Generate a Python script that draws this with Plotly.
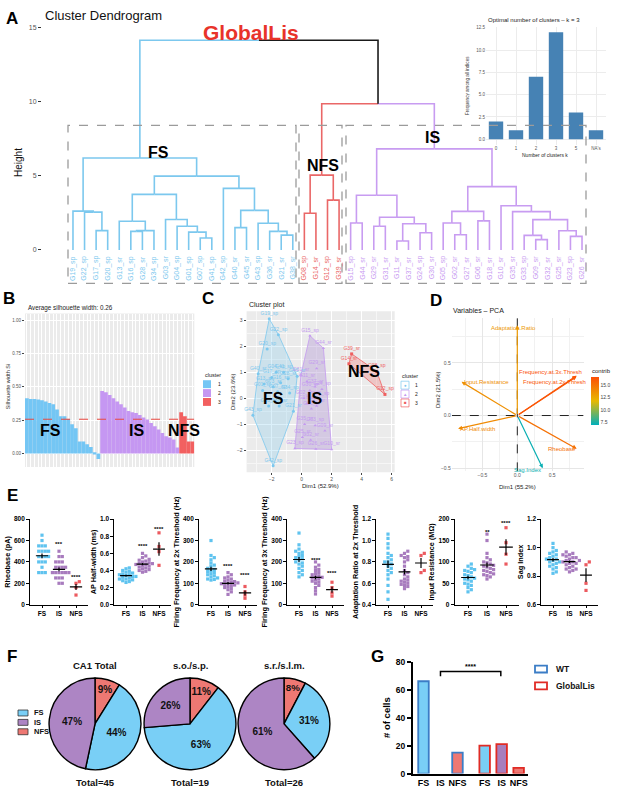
import numpy as np
import plotly.graph_objects as go

W, H = 617, 796
FONT = "Liberation Sans, Arial, sans-serif"


def X(px):
    return px / W


def Y(py):
    return 1 - py / H


# ============================ DATA ============================
# ---- A: dendrogram, nodes are (left, right, merge height)
FS_A = ("G19_sp", ("G22_sp", ("G17_sp", "G20_sp", 1.3), 2.55), 2.62)
FS_B1 = ("G13_sr", (("G16_sp", "G28_sr", 1.25), "G34_sp", 1.3), 1.93)
FS_B2 = ("G03_sr", ("G04_sp", ("G01_sp", ("G07_sp", "G41_sp", 0.8), 1.2), 1.6), 2.05)
FS_C = ("G42_sp", (("G40_sr", "G45_sr", 1.5),
                   ("G43_sp", ("G36_sr", ("G21_sr", "G38_sr", 1.0), 1.25), 1.8), 2.67), 4.15)
FS_TREE = (FS_A, ((FS_B1, FS_B2, 3.75), FS_C, 4.98), 6.2)
NFS_TREE = (("G08_sp", "G14_sr", 2.47), ("G12_sp", "G39_sr", 3.36), 5.05)
IS_L = (("G15_sp", "G44_sr", 1.82),
        (("G29_sr", "G31_sr", 1.6), (("G11_sr", "G37_sr", 0.6), ("G24_sp", "G30_sr", 1.16), 1.76), 2.2), 3.69)
IS_R1 = (("G05_sp", ("G02_sr", "G27_sr", 1.02), 1.82), ("G06_sr", "G18_sr", 1.96), 2.6)
IS_R2 = ("G10_sr", ("G35_sr", (("G33_sp", ("G09_sr", "G32_sr", 0.69), 0.98),
                               ("G25_sr", ("G23_sp", "G26_sr", 0.91), 1.29), 2.04), 2.58), 2.98)
IS_TREE = (IS_L, (IS_R1, IS_R2, 4.27), 6.82)
ROOT = (FS_TREE, (NFS_TREE, IS_TREE, 9.87), 14.15)

# inset: optimal number of clusters
K_LABELS = ["0", "1", "2", "3", "5", "NA's"]
K_FREQ = [2, 1, 7, 12, 3, 1]

# ---- B: silhouette widths (sorted within cluster)
SIL_FS = [0.415, 0.41, 0.41, 0.405, 0.40, 0.39, 0.38, 0.37, 0.33, 0.28, 0.28, 0.26, 0.22, 0.19,
          0.09, 0.09, 0.07, 0.05, 0.01, -0.04]
SIL_IS = [0.47, 0.46, 0.44, 0.415, 0.39, 0.37, 0.345, 0.32, 0.31, 0.305, 0.29, 0.27, 0.255, 0.23,
          0.205, 0.18, 0.155, 0.13, 0.12, 0.105, 0.045]
SIL_NFS = [0.31, 0.28, 0.09, 0.09]

# ---- C: cluster plot coordinates (same order as dendrogram leaves)
C_FS_D1 = [-2.16, -1.55, -2.0, -2.3, -2.5, -1.4, -0.9, -0.8, -1.9, -1.7, -2.6, -1.6, -1.2, -1.9,
           -2.9, -0.3, -3.25, -2.2, -0.55, -1.5]
C_FS_D2 = [3.06, 2.45, 0.8, 1.9, 0.55, 0.6, 0.75, 0.2, 0.45, 1.0, 0.3, 0.25, 1.0, -2.6,
           0.95, 0.85, -0.65, -0.3, -0.5, -0.3]
C_IS_D1 = [0.55, 1.45, 1.0, -0.05, 0.35, 0.9, 1.35, 0.55, 1.25, 0.15, 1.0, 0.65, 0.35, 2.0,
           0.2, 0.9, 1.55, 0.6, 0.05, -0.45, 0.95]
C_IS_D2 = [2.41, 1.93, 1.15, 0.9, 0.65, 0.45, 0.35, 0.3, -0.05, 0.0, -0.3, -0.4, -0.2, -1.97,
           -1.0, -1.05, -1.25, -1.6, -1.5, -1.93, -1.95]
C_NFS_D1 = [5.0, 3.15, 5.55, 3.33]
C_NFS_D2 = [1.04, 1.33, 0.15, 1.71]

# ---- D: PCA variables
VAR_NAMES = ["Adaptation.Ratio", "Frequency.at.3x.Thresh", "Frequency.at.2x.Thresh",
             "Input.Resistance", "AP.Half.width", "Rheobase", "Sag.Index"]
VAR_D1 = [0.0, 0.852, 0.85, -0.80, -0.85, 0.852, 0.365]
VAR_D2 = [0.857, 0.378, 0.37, 0.32, -0.125, -0.315, -0.50]
VAR_CONTRIB = [13.2, 16.4, 16.2, 13.6, 13.9, 15.0, 7.2]

# ---- E: electrophysiology per cluster
RHEO_FS = [650, 600, 550, 550, 550, 500, 500, 500, 500, 450, 450, 450, 450, 400, 400, 400, 350, 300, 300, 300]
RHEO_IS = [500, 450, 450, 400, 400, 400, 350, 350, 350, 350, 300, 300, 300, 300, 300, 300, 250, 250, 250, 200, 200]
RHEO_NFS = [215, 200, 160, 90]
APHW_FS = [0.43, 0.42, 0.40, 0.39, 0.38, 0.37, 0.36, 0.35, 0.35, 0.34, 0.33, 0.33, 0.32, 0.31, 0.30,
           0.30, 0.29, 0.28, 0.27, 0.26]
APHW_IS = [0.60, 0.57, 0.55, 0.53, 0.52, 0.51, 0.50, 0.49, 0.48, 0.48, 0.47, 0.47, 0.46, 0.45, 0.44,
           0.43, 0.42, 0.41, 0.40, 0.39, 0.38]
APHW_NFS = [0.84, 0.68, 0.62, 0.46]
FF2_FS = [300, 230, 220, 210, 195, 185, 180, 170, 165, 160, 155, 150, 145, 140, 135, 130, 125, 120, 118, 115]
FF2_IS = [150, 140, 130, 125, 120, 115, 110, 108, 105, 102, 100, 98, 95, 92, 90, 85, 80, 75, 70, 60, 48]
FF2_NFS = [85, 60, 45, 30]
FF3_FS = [335, 280, 260, 250, 245, 240, 230, 225, 220, 215, 210, 200, 195, 190, 180, 170, 160, 150, 140, 130]
FF3_IS = [200, 185, 175, 165, 160, 150, 145, 140, 135, 130, 128, 125, 120, 115, 110, 105, 100, 90, 80, 65, 50]
FF3_NFS = [105, 80, 55, 40]
ADAPT_FS = [1.06, 1.02, 0.97, 0.93, 0.88, 0.86, 0.84, 0.82, 0.80, 0.80, 0.78, 0.76, 0.74, 0.72, 0.70,
            0.68, 0.64, 0.58, 0.52, 0.45]
ADAPT_IS = [0.90, 0.88, 0.86, 0.85, 0.84, 0.82, 0.80, 0.76, 0.72, 0.70, 0.68, 0.66, 0.64, 0.63, 0.62,
            0.61, 0.60, 0.59, 0.58, 0.57, 0.55]
ADAPT_NFS = [0.88, 0.86, 0.72, 0.70]
RIN_FS = [95, 90, 85, 82, 80, 78, 75, 70, 68, 65, 62, 60, 58, 55, 50, 48, 45, 40, 35, 30]
RIN_IS = [165, 150, 120, 110, 105, 100, 98, 95, 92, 90, 88, 85, 82, 80, 78, 75, 72, 70, 68, 65, 60]
RIN_NFS = [180, 145, 118, 95]
SAG_FS = [1.03, 1.0, 0.98, 0.97, 0.96, 0.95, 0.94, 0.93, 0.92, 0.92, 0.91, 0.90, 0.90, 0.89, 0.88,
          0.87, 0.86, 0.85, 0.83, 0.82]
SAG_IS = [0.97, 0.96, 0.95, 0.95, 0.94, 0.93, 0.93, 0.92, 0.91, 0.91, 0.90, 0.90, 0.89, 0.89, 0.88,
          0.87, 0.86, 0.85, 0.85, 0.84, 0.83]
SAG_NFS = [0.90, 0.88, 0.75, 0.70]
E_CATS = ["FS", "IS", "NFS"]

# ---- F: pies (order: NFS, FS, IS)
PIE_TITLES = ["CA1 Total", "s.o./s.p.", "s.r./s.l.m."]
PIE_COUNTS = [[4, 20, 21], [2, 12, 5], [2, 8, 16]]
PIE_PCT = [["9%", "44%", "47%"], ["11%", "63%", "26%"], ["8%", "31%", "61%"]]
PIE_TOTALS = ["Total=45", "Total=19", "Total=26"]

# ---- G: number of cells
G_CATS = ["FS", "IS", "NFS"]
G_WT = [66, 0, 15]
G_GL = [20, 21, 4]

# ============================ STYLE ============================
CL = {"FS": "#7cc8ee", "NFS": "#ea6767", "IS": "#c89cf1", "mix": "#1a1a1a"}
SIL_COL = {"FS": "#74c6f4", "IS": "#c597f2", "NFS": "#f26060"}
E_COL = ["#5fc3ef", "#a87bbe", "#ec5a5f"]
F_COL = {"FS": "#79cff6", "IS": "#ad85c4", "NFS": "#ee7873"}

fig = go.Figure()
annotations = []
shapes = []
layout = dict(width=W, height=H, autosize=False, margin=dict(l=0, r=0, t=0, b=0),
              paper_bgcolor="white", plot_bgcolor="rgba(0,0,0,0)", showlegend=False,
              font=dict(family=FONT, size=7, color="#222222"))


def sfx(n):
    return "" if n == 1 else str(n)


def set_axes(n, xpx, ypy, xr, yr, xkw=None, ykw=None):
    s = sfx(n)
    base = dict(showgrid=False, zeroline=False, showticklabels=False, ticks="", showline=False)
    xa = dict(base, domain=[X(xpx[0]), X(xpx[1])], range=xr, anchor="y" + s)
    ya = dict(base, domain=[Y(ypy[1]), Y(ypy[0])], range=yr, anchor="x" + s)
    xa.update(xkw or {})
    ya.update(ykw or {})
    layout["xaxis" + s] = xa
    layout["yaxis" + s] = ya


def txt(px, py, text, size=7, color="#222222", xa="center", ya="middle", angle=0, bold=False):
    annotations.append(dict(x=X(px), y=Y(py), xref="paper", yref="paper", text=("<b>%s</b>" % text) if bold else text,
                            showarrow=False, xanchor=xa, yanchor=ya, textangle=angle,
                            font=dict(size=size, color=color, family=FONT)))


def rect_px(x0, y0, x1, y1, **kw):
    shapes.append(dict(type="rect", xref="paper", yref="paper", x0=X(x0), x1=X(x1), y0=Y(y1), y1=Y(y0), **kw))


# panel letters
for L, px, py in [("A", 12, 14), ("B", 9, 297), ("C", 208, 297), ("D", 436, 299), ("E", 12, 497),
                  ("F", 12, 660), ("G", 377, 660)]:
    txt(px, py, L, size=17, color="black", bold=True)

# ============================ A: dendrogram ============================
def leaves(node):
    if isinstance(node, str):
        return [node]
    return leaves(node[0]) + leaves(node[1])


order = leaves(ROOT)
pos = {nm: i + 1 for i, nm in enumerate(order)}
cluster_of = {}
for c, tree in (("FS", FS_TREE), ("NFS", NFS_TREE), ("IS", IS_TREE)):
    for l in leaves(tree):
        cluster_of[l] = c


def node_cluster(node):
    cs = {cluster_of[l] for l in leaves(node)}
    return cs.pop() if len(cs) == 1 else "mix"


segs = {c: ([], []) for c in CL}


def place(node):
    if isinstance(node, str):
        return pos[node], 0.0
    l, r, h = node
    xl, hl = place(l)
    xr, hr = place(r)
    xm = (xl + xr) / 2
    for child, xc, hc in ((l, xl, hl), (r, xr, hr)):
        xs, ys = segs[node_cluster(child)]
        xs += [xc, xc, xm, None]
        ys += [hc, h, h, None]
    return xm, h


place(ROOT)
for c, (xs, ys) in segs.items():
    fig.add_trace(go.Scatter(x=xs, y=ys, mode="lines", line=dict(color=CL[c], width=1.6),
                             hoverinfo="skip", xaxis="x", yaxis="y"))

set_axes(1, (67.2, 587.8), (18.5, 255.5), [0.5, 45.5], [-0.5, 15.3],
         ykw=dict(anchor="free", position=X(41), tickvals=[0, 5, 10, 15], showticklabels=True,
                  ticks="outside", ticklen=3, tickcolor="#333333", tickwidth=1,
                  tickfont=dict(size=7, color="#555555")))
for nm in order:
    annotations.append(dict(x=pos[nm], y=-0.25, xref="x", yref="y", text=nm, showarrow=False,
                            textangle=-90, xanchor="center", yanchor="top",
                            font=dict(size=7, color=CL[cluster_of[nm]], family=FONT)))
for x0, x1 in [(68, 296), (299, 342), (346, 586)]:
    rect_px(x0, 122, x1, 282, line=dict(color="#9b9b9b", width=1.3, dash="dash"), fillcolor="rgba(0,0,0,0)")
txt(43, 11, "Cluster Dendrogram", size=13, color="#111111", xa="left")
txt(19, 160, "Height", size=10, color="#111111", angle=-90)
txt(251, 28, "GlobalLis", size=21, color="#e8332a", bold=True)
txt(158, 149, "FS", size=16, color="black", bold=True)
txt(323, 163, "NFS", size=16, color="black", bold=True)
txt(433, 134, "IS", size=16, color="black", bold=True)

# inset
fig.add_trace(go.Bar(x=list(range(len(K_FREQ))), y=K_FREQ, marker=dict(color="#4682b4", line=dict(width=0)),
                     width=0.72, xaxis="x2", yaxis="y2", hoverinfo="skip"))
set_axes(2, (486, 606), (22.1, 141.4), [-0.5, 5.5], [-0.6, 12.6],
         xkw=dict(tickvals=list(range(len(K_LABELS))), ticktext=K_LABELS, showticklabels=True,
                  showgrid=True, gridcolor="#ececec", gridwidth=0.6, tickfont=dict(size=4.5, color="#555")),
         ykw=dict(tickvals=[0, 2.5, 5, 7.5, 10, 12.5], ticktext=["0.0", "2.5", "5.0", "7.5", "10.0", "12.5"],
                  showticklabels=True, showgrid=True, gridcolor="#ececec", gridwidth=0.6,
                  tickfont=dict(size=4.5, color="#555")))
txt(534, 15, "Optimal number of clusters \u2013 k = 3", size=6, color="#222")
txt(468, 82, "Frequency among all indices", size=4.6, color="#333", angle=-90)
txt(545, 152, "Number of clusters k", size=5, color="#222")

# ============================ B: silhouette ============================
shapes.append(dict(type="rect", xref="x3 domain", yref="y3 domain", x0=0, x1=1, y0=0, y1=1,
                   fillcolor="#ebebeb", line=dict(width=0), layer="below"))
start = 1
for c, vals in (("FS", SIL_FS), ("IS", SIL_IS), ("NFS", SIL_NFS)):
    xs = list(range(start, start + len(vals)))
    fig.add_trace(go.Bar(x=xs, y=vals, width=1.0, marker=dict(color=SIL_COL[c], line=dict(width=0)),
                         xaxis="x3", yaxis="y3", hoverinfo="skip"))
    start += len(vals)
sil_all = SIL_FS + SIL_IS + SIL_NFS
sil_mean = float(np.mean(sil_all))
set_axes(3, (25, 194.3), (312.5, 467.8), [0.5, 45.5], [-0.1, 1.05],
         xkw=dict(tickvals=list(range(1, 46)), showgrid=True, gridcolor="white", gridwidth=0.6),
         ykw=dict(tickvals=[0, 0.25, 0.5, 0.75, 1.0], ticktext=["0.00", "0.25", "0.50", "0.75", "1.00"],
                  showticklabels=True, showgrid=True, gridcolor="white", gridwidth=0.8,
                  ticks="outside", ticklen=2, tickcolor="#444", tickfont=dict(size=4.5, color="#555")))
shapes.append(dict(type="line", xref="x3", yref="y3", x0=0.5, x1=45.5, y0=sil_mean, y1=sil_mean,
                   line=dict(color="#e8473f", width=1, dash="dash")))
txt(26, 307, "Average silhouette width: %.2f" % sil_mean, size=6.3, color="#222", xa="left")
txt(8, 387, "Silhouette width Si", size=5.5, color="#333", angle=-90)
txt(50, 431, "FS", size=16, color="black", bold=True)
txt(136, 431, "IS", size=16, color="black", bold=True)
txt(184, 431, "NFS", size=16, color="black", bold=True)
# B legend
txt(203, 375, "cluster", size=5.5, color="#222", xa="left")
for i, c in enumerate(["FS", "IS", "NFS"]):
    rect_px(203, 380 + 9 * i, 211, 388 + 9 * i, fillcolor=SIL_COL[c], line=dict(width=0))
    txt(216, 384 + 9 * i, str(i + 1), size=5, color="#222", xa="left")

# ============================ C: cluster plot ============================
shapes.append(dict(type="rect", xref="x4 domain", yref="y4 domain", x0=0, x1=1, y0=0, y1=1,
                   fillcolor="#ebebeb", line=dict(width=0), layer="below"))


def hull(xs, ys):
    pts = sorted(set(zip(xs, ys)))

    def cross(o, a, b):
        return (a[0] - o[0]) * (b[1] - o[1]) - (a[1] - o[1]) * (b[0] - o[0])
    lo, up = [], []
    for p in pts:
        while len(lo) >= 2 and cross(lo[-2], lo[-1], p) <= 0:
            lo.pop()
        lo.append(p)
    for p in reversed(pts):
        while len(up) >= 2 and cross(up[-2], up[-1], p) <= 0:
            up.pop()
        up.append(p)
    h = lo[:-1] + up[:-1]
    h.append(h[0])
    return [p[0] for p in h], [p[1] for p in h]


C_GROUPS = [("FS", C_FS_D1, C_FS_D2, leaves(FS_TREE), "circle", "rgba(124,200,238,0.28)", "#7cc8ee"),
            ("IS", C_IS_D1, C_IS_D2, leaves(IS_TREE), "triangle-up", "rgba(185,160,215,0.45)", "#c49af0"),
            ("NFS", C_NFS_D1, C_NFS_D2, leaves(NFS_TREE), "square", "rgba(240,96,96,0.28)", "#ef5f5f")]
for c, dx, dy, names, sym, fillc, linec in C_GROUPS:
    hx, hy = hull(dx, dy)
    fig.add_trace(go.Scatter(x=hx, y=hy, mode="lines", fill="toself", fillcolor=fillc,
                             line=dict(color=linec, width=0.8), xaxis="x4", yaxis="y4", hoverinfo="skip"))
for c, dx, dy, names, sym, fillc, linec in C_GROUPS:
    fig.add_trace(go.Scatter(x=dx, y=dy, mode="markers+text", text=names, textposition="top center",
                             textfont=dict(size=5, color=linec, family=FONT),
                             marker=dict(symbol=sym, size=3, color=linec), xaxis="x4", yaxis="y4",
                             hoverinfo="skip", cliponaxis=False))
set_axes(4, (246.6, 394.7), (310.2, 473.3), [-3.67, 6.2], [-2.85, 3.35],
         xkw=dict(tickmode="linear", tick0=0, dtick=2, showticklabels=True, showgrid=True, gridcolor="white",
                  gridwidth=0.8, ticks="outside", ticklen=2, tickcolor="#444",
                  tickfont=dict(size=5, color="#555"),
                  minor=dict(dtick=1, showgrid=True, gridcolor="#f6f6f6", gridwidth=0.4)),
         ykw=dict(tickmode="linear", tick0=0, dtick=1, showticklabels=True, showgrid=True, gridcolor="white",
                  gridwidth=0.8, ticks="outside", ticklen=2, tickcolor="#444",
                  tickfont=dict(size=5, color="#555"),
                  minor=dict(dtick=0.5, showgrid=True, gridcolor="#f6f6f6", gridwidth=0.4)))
txt(247, 304, "Cluster plot", size=7, color="#222", xa="left")
txt(320, 487, "Dim1 (52.9%)", size=6, color="#222")
txt(233, 392, "Dim2 (23.6%)", size=6, color="#222", angle=-90)
txt(273, 398, "FS", size=16, color="black", bold=True)
txt(314, 398, "IS", size=16, color="black", bold=True)
txt(364, 371, "NFS", size=16, color="black", bold=True)
# C legend
txt(400, 376, "cluster", size=5.5, color="#222", xa="left")
for i, (c, glyph) in enumerate([("FS", "\u25cf"), ("IS", "\u25b2"), ("NFS", "\u25a0")]):
    col = C_GROUPS[i][6]
    rect_px(401, 381 + 9 * i, 409, 389 + 9 * i, fillcolor="white", line=dict(color=col, width=0.7))
    txt(405, 385 + 9 * i, glyph, size=4.5, color=col)
    txt(413, 385 + 9 * i, str(i + 1), size=5, color="#222", xa="left")

# ============================ D: PCA variables ============================
CMIN, CMAX = 7.0, 16.6
CSTOPS = [(0.0, (0, 175, 187)), (0.5, (231, 184, 0)), (1.0, (252, 78, 7))]


def cs_color(v):
    t = min(1.0, max(0.0, (v - CMIN) / (CMAX - CMIN)))
    for (t0, c0), (t1, c1) in zip(CSTOPS[:-1], CSTOPS[1:]):
        if t <= t1:
            f = (t - t0) / (t1 - t0)
            return "rgb(%d,%d,%d)" % tuple(round(a + (b - a) * f) for a, b in zip(c0, c1))
    return "rgb(%d,%d,%d)" % CSTOPS[-1][1]


set_axes(5, (451.8, 583.5), (316.5, 472.3), [-0.94, 0.95], [-0.53, 0.93],
         xkw=dict(tickmode="linear", tick0=0, dtick=0.5, tickformat=".1f", showticklabels=True, showgrid=True,
                  gridcolor="#e6e6e6", gridwidth=0.7, tickfont=dict(size=5, color="#555"),
                  minor=dict(dtick=0.25, showgrid=True, gridcolor="#f1f1f1", gridwidth=0.5)),
         ykw=dict(tickmode="linear", tick0=0, dtick=0.5, tickformat=".1f", showticklabels=True, showgrid=True,
                  gridcolor="#e6e6e6", gridwidth=0.7, tickfont=dict(size=5, color="#555"),
                  minor=dict(dtick=0.25, showgrid=True, gridcolor="#f1f1f1", gridwidth=0.5)))
shapes.append(dict(type="line", xref="x5", yref="y5", x0=0, x1=0, y0=-0.53, y1=0.93,
                   line=dict(color="#222", width=1, dash="dash")))
shapes.append(dict(type="line", xref="x5", yref="y5", x0=-0.94, x1=0.95, y0=0, y1=0,
                   line=dict(color="#222", width=1, dash="dash")))
LBL_POS = [(-0.05, 0.83, "center"), (0.0, 0.41, "left"), (0.06, 0.32, "left"), (-0.80, 0.32, "left"),
           (-0.85, -0.13, "left"), (0.87, -0.32, "right"), (0.15, -0.515, "center")]
for nm, d1, d2, ct, (lx, ly, anc) in zip(VAR_NAMES, VAR_D1, VAR_D2, VAR_CONTRIB, LBL_POS):
    col = cs_color(ct)
    annotations.append(dict(x=d1, y=d2, ax=0, ay=0, xref="x5", yref="y5", axref="x5", ayref="y5",
                            text="", showarrow=True, arrowhead=2, arrowsize=0.7, arrowwidth=1.2,
                            arrowcolor=col))
    annotations.append(dict(x=lx, y=ly, xref="x5", yref="y5", text=nm, showarrow=False, xanchor=anc,
                            yanchor="middle", font=dict(size=6, color=col, family=FONT)))
fig.add_trace(go.Scatter(x=[0] * len(VAR_CONTRIB), y=[0] * len(VAR_CONTRIB), mode="markers",
                         marker=dict(size=1, opacity=0, color=VAR_CONTRIB, cmin=CMIN, cmax=CMAX,
                                     colorscale=[[s, "rgb(%d,%d,%d)" % c] for s, c in CSTOPS],
                                     showscale=True,
                                     colorbar=dict(x=X(591), xanchor="left", y=Y(401), yanchor="middle",
                                                   lenmode="pixels", len=48, thicknessmode="pixels",
                                                   thickness=8, outlinewidth=0, xpad=0, ypad=0,
                                                   tickvals=[7.5, 10, 12.5, 15],
                                                   ticktext=["7.5", "10.0", "12.5", "15.0"],
                                                   ticks="", ticklabelposition="outside",
                                                   tickfont=dict(size=5, color="#444"),
                                                   title=dict(text="", font=dict(size=6), side="top"))),
                         xaxis="x5", yaxis="y5", hoverinfo="skip"))
txt(590, 371, "contrib", size=6, color="#222", xa="left")
txt(451, 309, "Variables \u2013 PCA", size=7, color="#222", xa="left")
txt(517, 488, "Dim1 (55.2%)", size=6, color="#222")
txt(438, 390, "Dim2 (21.5%)", size=6, color="#222", angle=-90)

# ============================ E: scatter panels ============================
def swarm(vals, px_per_val, unit_px, d=3.3):
    idx = sorted(range(len(vals)), key=lambda i: vals[i])
    placed = []
    out = [0.0] * len(vals)
    cands = [0.0]
    for m in range(1, 15):
        cands += [m * d, -m * d]
    for i in idx:
        yp = vals[i] * px_per_val
        for c in cands:
            if all((c - a) ** 2 + (yp - b) ** 2 >= d * d * 0.95 for a, b in placed):
                break
        placed.append((c, yp))
        out[i] = c / unit_px
    return out


E_SPECS = [
    ("Rheobase (pA)", (RHEO_FS, RHEO_IS, RHEO_NFS), [0, 800], [0, 200, 400, 600, 800],
     ["0", "200", "400", "600", "800"], 42, 17, [(1, 566, "***"), (2, 259, "****")]),
    ("AP Half-width (ms)", (APHW_FS, APHW_IS, APHW_NFS), [0, 1.0], [0, 0.2, 0.4, 0.6, 0.8, 1.0],
     ["0.0", "0.2", "0.4", "0.6", "0.8", "1.0"], 126, 16.5, [(1, 0.69, "****"), (2, 0.88, "****")]),
    ("Firing Frequency at 2x Threshold (Hz)", (FF2_FS, FF2_IS, FF2_NFS), [0, 400], [0, 100, 200, 300, 400],
     ["0", "100", "200", "300", "400"], 211, 17, [(1, 180, "****"), (2, 137, "****")]),
    ("Firing Frequency at 3x Threshold (Hz)", (FF3_FS, FF3_IS, FF3_NFS), [0, 400], [0, 100, 200, 300, 400],
     ["0", "100", "200", "300", "400"], 299, 16.5, [(1, 211, "****"), (2, 146, "****")]),
    ("Adaptation Ratio at 2x Threshold", (ADAPT_FS, ADAPT_IS, ADAPT_NFS), [0.4, 1.2], [0.4, 0.6, 0.8, 1.0, 1.2],
     ["0.4", "0.6", "0.8", "1.0", "1.2"], 388, 16.5, []),
    ("Input Resistance (M\u03a9)", (RIN_FS, RIN_IS, RIN_NFS), [0, 200], [0, 50, 100, 150, 200],
     ["0", "50", "100", "150", "200"], 468, 19, [(1, 169, "**"), (2, 192, "****")]),
    ("Sag Index", (SAG_FS, SAG_IS, SAG_NFS), [0.6, 1.2], [0.6, 0.8, 1.0, 1.2],
     ["0.6", "0.8", "1.0", "1.2"], 553, 16.5, []),
]
E_TOP, E_BOT = 520.7, 607.3
for k, (title, groups, rng, tv, tt, fs_px, unit, stars) in enumerate(E_SPECS):
    n = 6 + k
    s = str(n)
    ppv = (E_BOT - E_TOP) / (rng[1] - rng[0])
    mx, my = [], []
    for g, vals in enumerate(groups):
        offs = swarm([v - rng[0] for v in vals], ppv, unit)
        fig.add_trace(go.Scatter(x=[g + o for o in offs], y=vals, mode="markers",
                                 marker=dict(symbol="square", size=3.2, color=E_COL[g], line=dict(width=0)),
                                 xaxis="x" + s, yaxis="y" + s, hoverinfo="skip", cliponaxis=False))
        m = float(np.mean(vals))
        se = float(np.std(vals, ddof=1) / np.sqrt(len(vals)))
        mx += [g - 0.36, g + 0.36, None, g, g, None]
        my += [m, m, None, m - se, m + se, None]
    fig.add_trace(go.Scatter(x=mx, y=my, mode="lines", line=dict(color="black", width=1.2),
                             xaxis="x" + s, yaxis="y" + s, hoverinfo="skip", cliponaxis=False))
    for g, yv, st in stars:
        annotations.append(dict(x=g, y=yv, xref="x" + s, yref="y" + s, text="<b>%s</b>" % st, showarrow=False,
                                font=dict(size=6, color="black", family=FONT)))
    set_axes(n, (fs_px - 0.7 * unit, fs_px + 2.7 * unit), (E_TOP, E_BOT), [-0.7, 2.7], rng,
             xkw=dict(tickvals=[0, 1, 2], ticktext=["<b>%s</b>" % c for c in E_CATS], showticklabels=True,
                      ticks="outside", ticklen=2.5, tickwidth=1, tickcolor="black", showline=True,
                      linecolor="black", linewidth=1, tickfont=dict(size=6.5, color="black", family=FONT)),
             ykw=dict(tickvals=tv, ticktext=["<b>%s</b>" % t for t in tt], showticklabels=True,
                      ticks="outside", ticklen=3, tickwidth=1, tickcolor="black", showline=True,
                      linecolor="black", linewidth=1, tickfont=dict(size=6.5, color="black", family=FONT),
                      title=dict(text="<b>%s</b>" % title, font=dict(size=7.3, color="black", family=FONT),
                                 standoff=2)))

# ============================ F: pies ============================
PIE_CX = [95, 190, 284]
for i in range(3):
    cx, cy, r = PIE_CX[i], 728, 46.5
    fig.add_trace(go.Pie(values=PIE_COUNTS[i], labels=["NFS", "FS", "IS"], text=PIE_PCT[i],
                         textinfo="text", texttemplate="<b>%{text}</b>", textposition="inside",
                         insidetextorientation="horizontal", sort=False, direction="clockwise", rotation=0,
                         marker=dict(colors=[F_COL["NFS"], F_COL["FS"], F_COL["IS"]],
                                     line=dict(color="black", width=1.4)),
                         textfont=dict(size=10, color="#111", family=FONT),
                         domain=dict(x=[X(cx - r), X(cx + r)], y=[Y(cy + r), Y(cy - r)]),
                         hoverinfo="skip", showlegend=False))
    txt(cx, 669, PIE_TITLES[i], size=9.5, color="#111", bold=True)
    txt(cx, 787, PIE_TOTALS[i], size=9.5, color="#111", bold=True)
for i, c in enumerate(["FS", "IS", "NFS"]):
    rect_px(18, 714 + 9.5 * i, 28, 720 + 9.5 * i, fillcolor=F_COL[c], line=dict(color="#333", width=0.8))
    txt(32, 717 + 9.5 * i, c, size=7.5, color="#111", xa="left", bold=True)

# ============================ G: bars ============================
G_POS_WT = [0, 1, 2]
G_POS_GL = [3.6, 4.6, 5.6]
G_FILL = [F_COL["FS"], "#a87ebd", F_COL["NFS"]]
fig.add_trace(go.Bar(x=G_POS_WT, y=G_WT, width=0.62,
                     marker=dict(color=G_FILL, line=dict(color="#3b7dc6", width=[1.8 if v > 0 else 0 for v in G_WT])),
                     xaxis="x13", yaxis="y13", hoverinfo="skip"))
fig.add_trace(go.Bar(x=G_POS_GL, y=G_GL, width=0.62,
                     marker=dict(color=G_FILL, line=dict(color="#e02b25", width=[1.8 if v > 0 else 0 for v in G_GL])),
                     xaxis="x13", yaxis="y13", hoverinfo="skip"))
set_axes(13, (412.7, 528), (665, 778.3), [-0.635, 6.15], [0, 80],
         xkw=dict(tickvals=G_POS_WT + G_POS_GL, ticktext=["<b>%s</b>" % c for c in G_CATS * 2],
                  showticklabels=True, showline=True, linecolor="black", linewidth=1.5,
                  tickfont=dict(size=9, color="black", family=FONT)),
         ykw=dict(tickvals=[0, 20, 40, 60, 80], ticktext=["<b>%d</b>" % v for v in [0, 20, 40, 60, 80]],
                  showticklabels=True, ticks="outside", ticklen=4, tickwidth=1.5, tickcolor="black",
                  showline=True, linecolor="black", linewidth=1.5,
                  tickfont=dict(size=8.5, color="black", family=FONT),
                  title=dict(text="<b># of cells</b>", font=dict(size=9.5, color="black", family=FONT),
                             standoff=3)))
shapes.append(dict(type="path", xref="x13", yref="y13",
                   path="M %f,%f L %f,%f L %f,%f L %f,%f" % (1.0, 69.5, 1.0, 73, 4.55, 73, 4.55, 69.5),
                   line=dict(color="black", width=1.5)))
annotations.append(dict(x=2.78, y=76.5, xref="x13", yref="y13", text="<b>****</b>", showarrow=False,
                        font=dict(size=7, color="black", family=FONT)))
rect_px(535, 669, 547, 676, fillcolor="white", line=dict(color="#3b7dc6", width=1.8))
rect_px(535, 686, 547, 693, fillcolor="white", line=dict(color="#e02b25", width=1.8))
txt(554, 672.5, "WT", size=8.5, color="#111", xa="left", bold=True)
txt(554, 689.5, "GlobalLis", size=8.5, color="#111", xa="left", bold=True)

layout["annotations"] = annotations
layout["shapes"] = shapes
fig.update_layout(**layout)
fig.write_html("out.html", config={"displayModeBar": False},
               post_script="document.body.style.margin='0px';document.body.style.overflow='hidden';")
